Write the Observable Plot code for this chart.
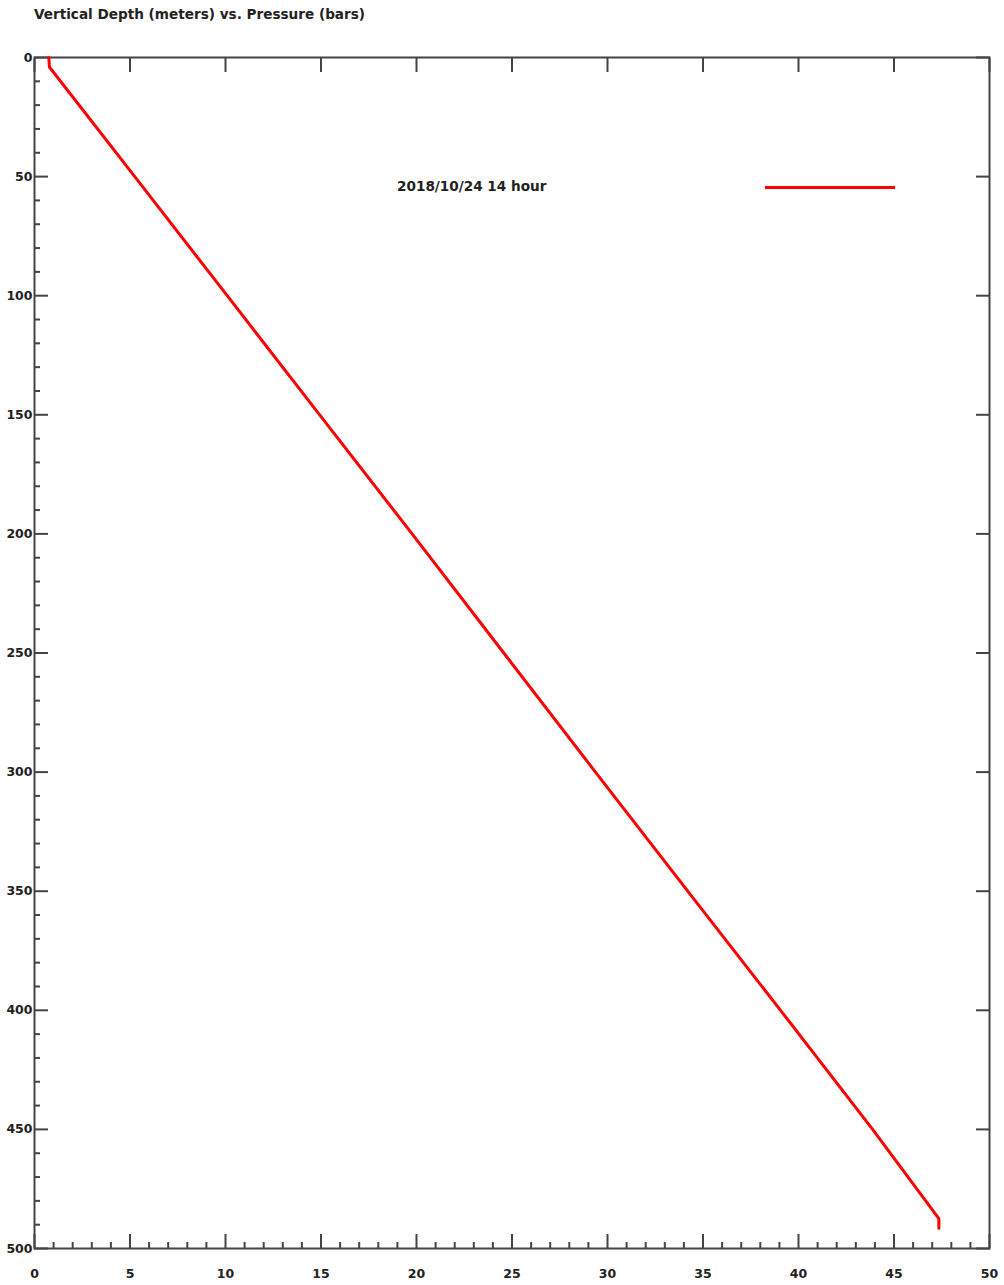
<!DOCTYPE html>
<html>
<head>
<meta charset="utf-8">
<script src="https://cdn.jsdelivr.net/npm/d3@7"></script>
<script src="https://cdn.jsdelivr.net/npm/@observablehq/plot@0.6"></script>
<style>
  html, body { margin: 0; padding: 0; background: #fff; }
  #wrap { position: relative; width: 1004px; height: 1285px; font-family: "DejaVu Sans", sans-serif; font-weight: bold; }
  #title { position: absolute; left: 34px; top: 6px; font-size: 13.6px; line-height: 16px; color: #222; white-space: nowrap; }
  #chart { position: absolute; left: 0; top: 30px; }
  #legend-text { position: absolute; left: 397px; top: 178px; font-size: 13.6px; line-height: 16px; color: #222; white-space: nowrap; }
  #legend-line { position: absolute; left: 765px; top: 185.5px; width: 130px; height: 3px; background: #ff0000; }
</style>
</head>
<body>
<div id="wrap">
  <div id="title">Vertical Depth (meters) vs. Pressure (bars)</div>
  <div id="chart"></div>
  <div id="legend-text"></div>
  <div id="legend-line"></div>
</div>
<script>
// Data
const title = "Vertical Depth (meters) vs. Pressure (bars)";
const seriesName = "2018/10/24 14 hour";
const depth    = [0,    4,    50,   100,   150,   200,   250,   300,   350,  400,   450,   487.5, 491.5];
const pressure = [0.75, 0.78, 5.25, 10.09, 14.93, 19.77, 24.57, 29.37, 34.2, 39.06, 43.88, 47.35, 47.35];

// Tick values
const xMajor = d3.range(0, 51, 5);
const xMinor = d3.range(0, 51, 1).filter(v => v % 5 !== 0);
const yMajor = d3.range(0, 501, 50);
const yMinor = d3.range(0, 501, 10).filter(v => v % 50 !== 0);

const data = depth.map((d, i) => ({depth: d, pressure: pressure[i]}));

document.getElementById("legend-text").textContent = seriesName;

const axisColor = "#444";
const blank = () => "";

const chart = Plot.plot({
  width: 1004,
  height: 1255,
  marginTop: 27,
  marginBottom: 37,
  marginLeft: 34,
  marginRight: 15,
  style: {fontFamily: "DejaVu Sans, sans-serif", fontWeight: "bold", fontSize: "12.5px", color: "#222", background: "white", overflow: "visible"},
  x: {domain: [0, 50]},
  y: {domain: [0, 500], reverse: true},
  marks: [
    // bottom axis: labels, major & minor inward ticks
    Plot.axisX({anchor: "bottom", ticks: xMajor, tickSize: 0, tickPadding: 21, label: null, fill: "#222"}),
    Plot.axisX({anchor: "bottom", ticks: xMajor, tickSize: -14, tickFormat: blank, label: null, stroke: axisColor, strokeWidth: 2}),
    Plot.axisX({anchor: "bottom", ticks: xMinor, tickSize: -6, tickFormat: blank, label: null, stroke: axisColor, strokeWidth: 2}),
    // top axis: major inward ticks only
    Plot.axisX({anchor: "top", ticks: xMajor, tickSize: -14, tickFormat: blank, label: null, stroke: axisColor, strokeWidth: 2}),
    // left axis: labels, major & minor inward ticks
    Plot.axisY({anchor: "left", ticks: yMajor, tickSize: 0, tickPadding: 2, label: null, fill: "#222"}),
    Plot.axisY({anchor: "left", ticks: yMajor, tickSize: -14, tickFormat: blank, label: null, stroke: axisColor, strokeWidth: 2}),
    Plot.axisY({anchor: "left", ticks: yMinor, tickSize: -6, tickFormat: blank, label: null, stroke: axisColor, strokeWidth: 2}),
    // right axis: major inward ticks only
    Plot.axisY({anchor: "right", ticks: yMajor, tickSize: -14, tickFormat: blank, label: null, stroke: axisColor, strokeWidth: 2}),
    Plot.frame({stroke: axisColor, strokeWidth: 2}),
    Plot.line(data, {x: "pressure", y: "depth", stroke: "#ff0000", strokeWidth: 3, curve: "linear"})
  ]
});
document.getElementById("chart").appendChild(chart);
</script>
</body>
</html>
